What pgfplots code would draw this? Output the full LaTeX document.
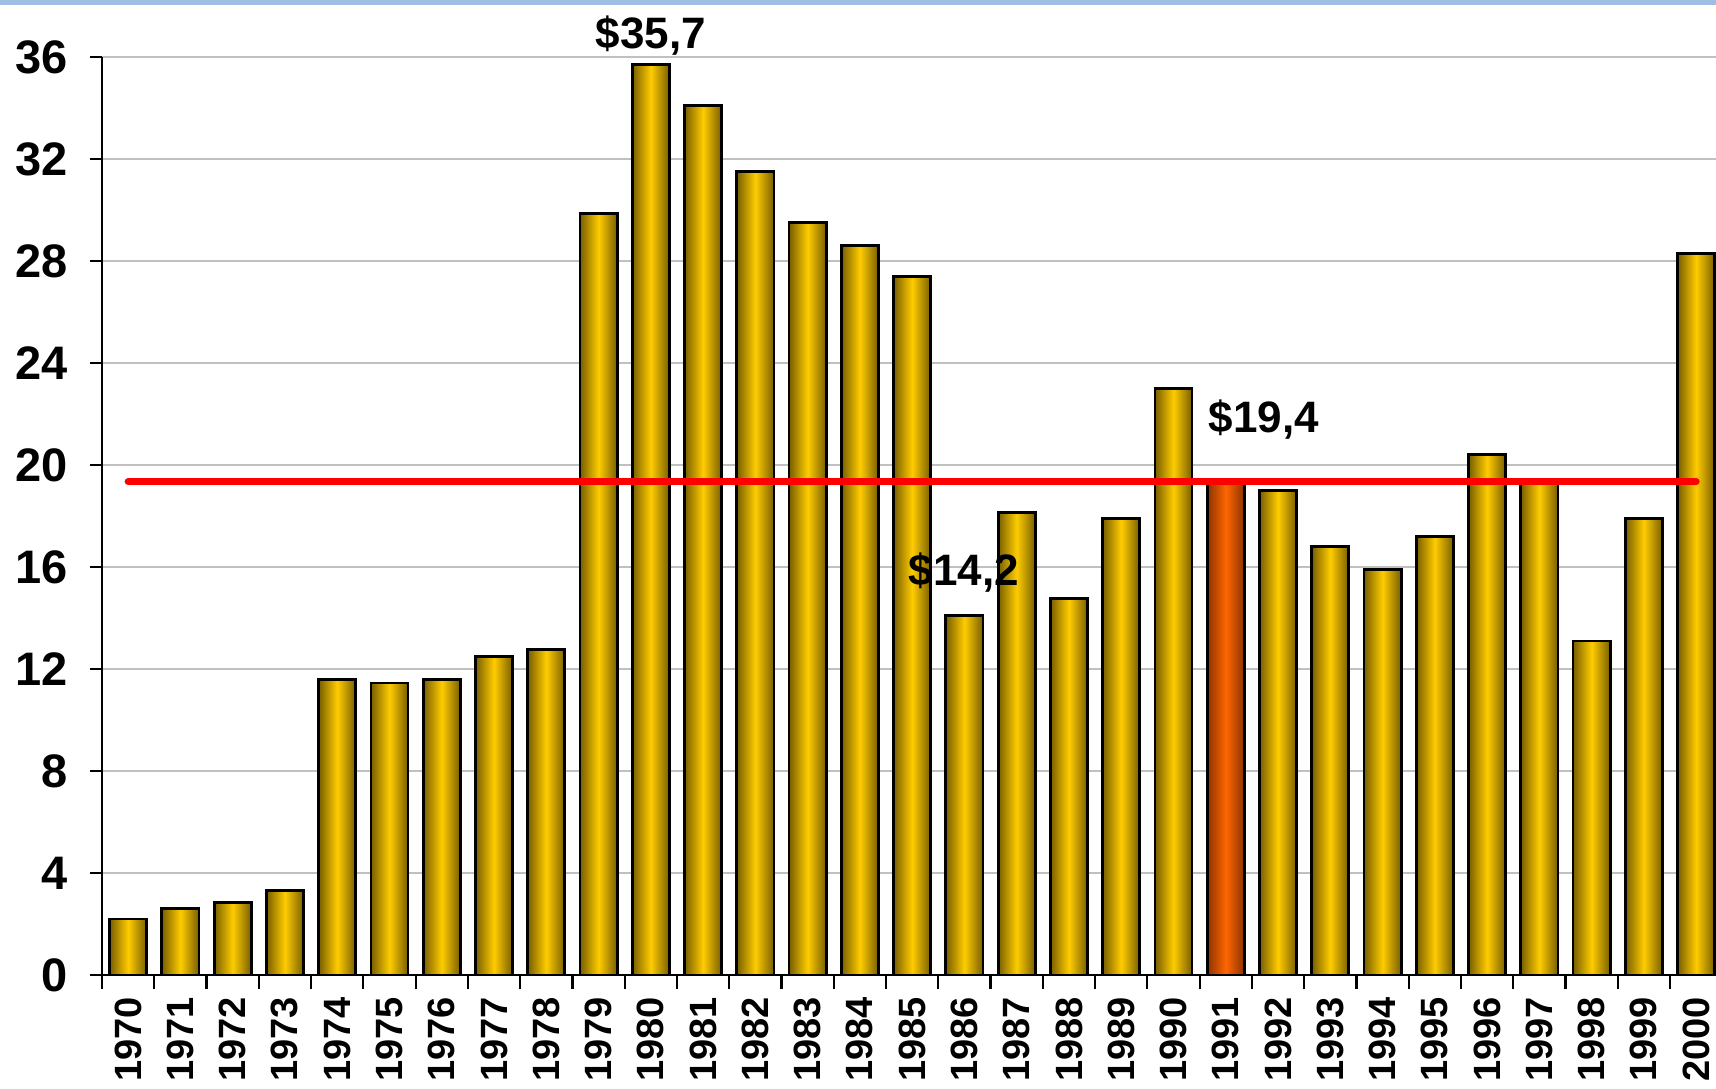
\documentclass[border=0pt]{standalone}
\usepackage{pgfplots}
\usepackage{pgfplotstable}
\pgfplotsset{compat=1.18}
\usepackage{fontspec}
\setmainfont{Liberation Sans}
\definecolor{gdark}{RGB}{120,94,0}
\definecolor{gbright}{RGB}{255,204,0}
\definecolor{odark}{RGB}{140,50,0}
\definecolor{obright}{RGB}{255,102,0}
\definecolor{topblue}{RGB}{160,190,228}
\definecolor{gridgray}{RGB}{192,192,192}
\pgfplotstableread{
x y
0 2.2
1 2.6
2 2.85
3 3.3
4 11.6
5 11.45
6 11.6
7 12.5
8 12.75
9 29.85
10 35.7
11 34.1
12 31.5
13 29.5
14 28.6
15 27.4
16 14.1
17 18.15
18 14.75
19 17.9
20 23.0
21 19.4
22 19.0
23 16.8
24 15.9
25 17.2
26 20.4
27 19.3
28 13.1
29 17.9
30 28.3
}\prices
\begin{document}
\begin{tikzpicture}
\useasboundingbox (0,0) rectangle (858pt,544pt);
\fill[topblue] (0,541.5pt) rectangle (858pt,544pt);
\begin{axis}[
  at={(51pt,56.5pt)}, anchor=south west,
  scale only axis, width=807pt, height=459pt,
  xmin=-0.5, xmax=30.38, ymin=0, ymax=36,
  clip=false,
  axis lines*=left,
  axis line style={black, line width=1.1pt},
  ytick={0,4,...,36},
  xtick={0,...,30},
  xticklabels={1970,1971,1972,1973,1974,1975,1976,1977,1978,1979,1980,1981,1982,1983,1984,1985,1986,1987,1988,1989,1990,1991,1992,1993,1994,1995,1996,1997,1998,1999,2000},
  tick align=outside,
  major tick length=6pt,
  minor tick length=7pt,
  major x tick style={draw=none},
  minor xtick={-0.5,0.5,...,29.5},
  minor x tick style={black, line width=1.1pt},
  ytick style={black, line width=1.1pt},
  ymajorgrids,
  grid style={gridgray, line width=1pt},
  /pgf/number format/assume math mode=true,
  yticklabel style={font=\fontsize{23.5}{25}\selectfont\bfseries, xshift=-7.5pt},
  xticklabel style={font=\fontsize{19}{21}\selectfont\bfseries, yshift=-3pt, rotate=90, anchor=east, inner sep=2pt},
  bar width=0.71,
]
\pgfplotsinvokeforeach{0,1,2,3,4,5,6,7,8,9,10,11,12,13,14,15,16,17,18,19,20,22,23,24,25,26,27,28,29,30}{
  \addplot[ybar, bar width=0.71, bar shift=0pt, draw=black, line width=1.4pt,
    left color=gdark, right color=gdark, middle color=gbright,
    x filter/.expression={x==#1 ? x : nan}]
  table[x=x, y=y] {\prices};
}
\addplot[ybar, bar width=0.71, bar shift=0pt, draw=black, line width=1.4pt,
  left color=odark, right color=odark, middle color=obright,
  x filter/.expression={x==21 ? x : nan}]
  table[x=x, y=y] {\prices};
\addplot[red, line width=3.5pt, line cap=round, sharp plot, mark=none]
coordinates {(0,19.35) (30,19.35)};
\node[font=\fontsize{22}{24}\selectfont\bfseries] at (axis cs:10,36.85) {\$35,7};
\node[font=\fontsize{22}{24}\selectfont\bfseries] at (axis cs:21.73,21.77) {\$19,4};
\node[font=\fontsize{22}{24}\selectfont\bfseries] at (axis cs:15.99,15.8) {\$14,2};
\end{axis}
\end{tikzpicture}
\end{document}
